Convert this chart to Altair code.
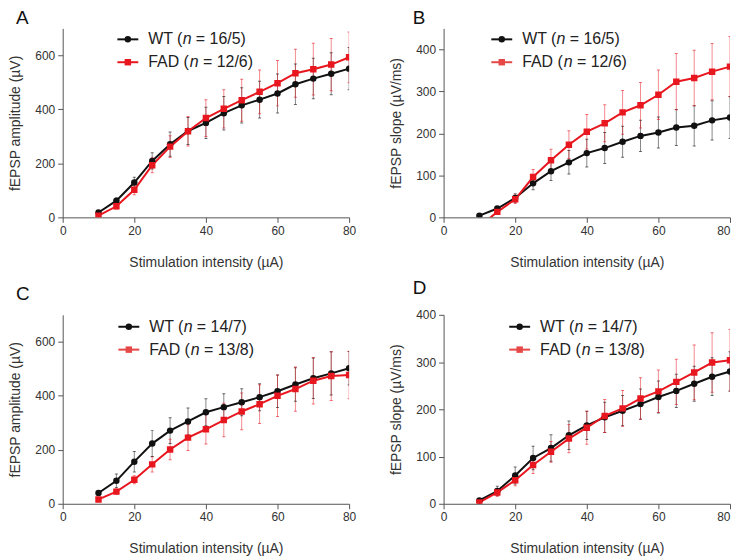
import altair as alt
import pandas as pd

# ---------------- data ----------------
X = [10, 15, 20, 25, 30, 35, 40, 45, 50, 55, 60, 65, 70, 75, 80]
X_TICKS = [0, 20, 40, 60, 80]

# Panel A : fEPSP amplitude (µV)
A_WT = [18, 62, 129, 209, 271, 320, 350, 386, 415, 436, 459, 493, 514, 532, 551]
A_WT_ERR = [5, 10, 20, 30, 45, 50, 58, 62, 65, 68, 72, 75, 75, 78, 78]
A_FAD = [6, 41, 102, 193, 262, 319, 368, 402, 434, 465, 497, 534, 549, 566, 593]
A_FAD_ERR = [5, 10, 18, 28, 40, 55, 68, 71, 78, 81, 84, 89, 96, 97, 94]

# Panel B : fEPSP slope (µV/ms)
B_WT = [4, 21, 46, 81, 110, 131, 153, 165, 180, 194, 202, 214, 218, 231, 238]
B_WT_ERR = [3, 5, 10, 15, 22, 28, 33, 37, 37, 37, 37, 43, 48, 47, 50]
B_FAD = [-22, 13, 43, 96, 136, 173, 204, 224, 250, 267, 292, 323, 332, 347, 359]
B_FAD_ERR = [5, 5, 10, 18, 26, 33, 41, 44, 52, 54, 59, 67, 66, 67, 72]

# Panel C : fEPSP amplitude (µV)
C_WT = [40, 85, 156, 223, 271, 305, 339, 358, 376, 395, 417, 442, 465, 483, 502]
C_WT_ERR = [8, 25, 38, 48, 48, 50, 50, 50, 50, 50, 60, 62, 75, 80, 62]
C_FAD = [16, 45, 89, 146, 201, 245, 276, 310, 342, 369, 400, 425, 456, 473, 477]
C_FAD_ERR = [6, 10, 15, 28, 38, 48, 55, 62, 68, 72, 77, 82, 86, 90, 88]

# Panel D : fEPSP slope (µV/ms)
D_WT = [7, 27, 60, 97, 118, 145, 166, 183, 197, 211, 226, 239, 254, 269, 280]
D_WT_ERR = [3, 10, 18, 25, 28, 30, 30, 32, 32, 32, 34, 35, 37, 40, 42]
D_FAD = [3, 24, 50, 82, 110, 138, 161, 186, 202, 223, 238, 258, 278, 299, 304]
D_FAD_ERR = [3, 8, 12, 18, 22, 30, 35, 35, 38, 44, 45, 48, 58, 63, 65]

LEG_AB = [("WT (", "= 16/5)"), ("FAD (", "= 12/6)")]
LEG_CD = [("WT (", "= 14/7)"), ("FAD (", "= 13/8)")]

BLACK = "#111111"
RED_A = "#e8161e"
RED = "#e64848"
FONT = "Liberation Sans"
W, H = 288, 190


def panel(wt, wt_err, fad, fad_err, ymax, yticks, ytitle, letter, legend,
          leg_x, leg_y, red, title_dx, title_offset, title_baseline, right_panel):
    rows = []
    for g, ys, es in (("WT", wt, wt_err), ("FAD", fad, fad_err)):
        for xv, yv, ev in zip(X, ys, es):
            rows.append({"x": xv, "y": yv, "lo": yv - ev, "hi": yv + ev, "g": g})
    df = pd.DataFrame(rows)

    xaxis_kw = dict(values=X_TICKS, title="Stimulation intensity (µA)",
                    labelFlush=False, titlePadding=19)
    if right_panel:
        xaxis_kw["labelAlign"] = {"condition": {"test": "datum.value == 80", "value": "right"},
                                  "value": "center"}
    xs = alt.X("x:Q", scale=alt.Scale(domain=[0, 80], nice=False), axis=alt.Axis(**xaxis_kw))
    ysc = alt.Scale(domain=[0, ymax], nice=False)
    yax = alt.Axis(values=yticks, title=ytitle, titlePadding=12)
    col = alt.Color("g:N", scale=alt.Scale(domain=["WT", "FAD"], range=[BLACK, red]),
                    legend=None)
    shp = alt.Shape("g:N", scale=alt.Scale(domain=["WT", "FAD"], range=["circle", "square"]),
                    legend=None)

    base = alt.Chart(df)
    err = base.mark_rule(strokeWidth=1, opacity=0.5, clip=True).encode(
        x=xs, y=alt.Y("lo:Q", scale=ysc, axis=yax), y2="hi:Q", color=col)
    cap_hi = base.mark_tick(orient="horizontal", size=3, thickness=1, opacity=0.6,
                            clip=True).encode(x="x:Q", y="hi:Q", color=col)
    cap_lo = base.mark_tick(orient="horizontal", size=3, thickness=1, opacity=0.6,
                            clip=True).encode(x="x:Q", y="lo:Q", color=col)
    line = base.mark_line(strokeWidth=2, clip=True).encode(
        x="x:Q", y="y:Q", color=col, detail="g:N")
    pts = base.mark_point(filled=True, opacity=1, size=42, clip=True).encode(
        x="x:Q", y="y:Q", color=col, shape=shp)

    one = alt.Chart(pd.DataFrame({"k": [0]}))
    leg_layers = []
    widths = {"WT (": 34.6, "FAD (": 41.8}
    for i, ((pre, post), c, s) in enumerate(zip(legend, [BLACK, red], ["circle", "square"])):
        yy = leg_y + i * 23
        leg_layers.append(one.mark_rule(color=c, strokeWidth=2).encode(
            x=alt.value(leg_x), x2=alt.value(leg_x + 21), y=alt.value(yy)))
        leg_layers.append(one.mark_point(filled=True, opacity=1, size=42, color=c, shape=s).encode(
            x=alt.value(leg_x + 10.5), y=alt.value(yy)))
        tx = leg_x + 31
        for txt, dx, style in ((pre, 0, "normal"), ("n", widths[pre], "italic"),
                               (post, widths[pre] + 8.9 + 4.4, "normal")):
            leg_layers.append(one.mark_text(align="left", baseline="middle", fontSize=16,
                                            font=FONT, fontStyle=style, color="#222222").encode(
                x=alt.value(tx + dx), y=alt.value(yy), text=alt.value(txt)))

    return alt.layer(err, cap_hi, cap_lo, line, pts, *leg_layers).properties(
        width=W, height=H,
        title=alt.TitleParams(letter, anchor="start", frame="group", fontSize=19,
                              fontWeight="normal", font=FONT, color="#111111",
                              dx=title_dx, offset=title_offset, baseline=title_baseline))


pA = panel(A_WT, A_WT_ERR, A_FAD, A_FAD_ERR, 700, [0, 200, 400, 600],
           "fEPSP amplitude (µV)", "A", LEG_AB, 55, 11, RED_A, -47, 0, "top", False)
pB = panel(B_WT, B_WT_ERR, B_FAD, B_FAD_ERR, 450, [0, 100, 200, 300, 400],
           "fEPSP slope (µV/ms)", "B", LEG_AB, 48, 11, RED, -31, 0, "top", True)
pC = panel(C_WT, C_WT_ERR, C_FAD, C_FAD_ERR, 700, [0, 200, 400, 600],
           "fEPSP amplitude (µV)", "C", LEG_CD, 56, 12, RED, -47, -4, "alphabetic", False)
pD = panel(D_WT, D_WT_ERR, D_FAD, D_FAD_ERR, 400, [0, 100, 200, 300, 400],
           "fEPSP slope (µV/ms)", "D", LEG_CD, 66, 12, RED, -31, -4, "alphabetic", True)

chart = alt.vconcat(
    alt.hconcat(pA, pB, spacing=33),
    alt.hconcat(pC, pD, spacing=33),
    spacing=10,
).properties(
    padding={"left": 0, "top": 0, "right": 0, "bottom": 0}
).configure(font=FONT).configure_view(stroke=None).configure_axis(
    grid=False, domainColor="#555555", tickColor="#555555", labelColor="#333333",
    titleColor="#333333", labelFontSize=12, titleFontSize=14, titleFontWeight="normal",
    tickSize=5, labelPadding=3, labelFont=FONT, titleFont=FONT,
)

chart.save("out.html", embed_options={"renderer": "svg", "actions": False})
